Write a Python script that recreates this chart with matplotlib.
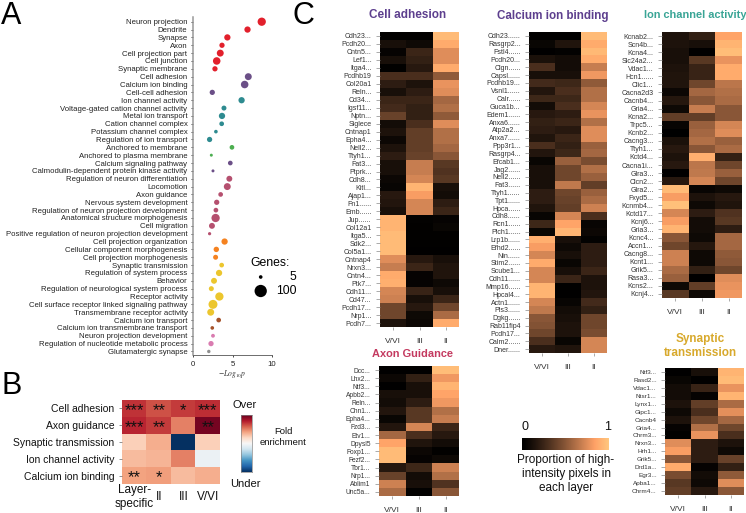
import matplotlib
matplotlib.use("Agg")
import matplotlib.pyplot as plt
from matplotlib.colors import PowerNorm
import numpy as np

plt.rcParams['font.family'] = ['Liberation Sans', 'DejaVu Sans']
plt.rcParams['mathtext.fontset'] = 'stix'

W, H = 746, 513

#Panel A data
terms = ["Neuron projection", "Dendrite", "Synapse", "Axon", "Cell projection part", "Cell junction",
         "Synaptic membrane", "Cell adhesion", "Calcium ion binding", "Cell-cell adhesion", "Ion channel activity",
         "Voltage-gated cation channel activity", "Metal ion transport", "Cation channel complex",
         "Potassium channel complex", "Regulation of ion transport", "Anchored to membrane",
         "Anchored to plasma membrane", "Calcium signaling pathway", "Calmodulin-dependent protein kinase activity",
         "Regulation of neuron differentiation", "Locomotion", "Axon guidance", "Nervous system development",
         "Regulation of neuron projection development", "Anatomical structure morphogenesis", "Cell migration",
         "Positive regulation of neuron projection development", "Cell projection organization",
         "Cellular component morphogenesis", "Cell projection morphogenesis", "Synaptic transmission",
         "Regulation of system process", "Behavior", "Regulation of neurological system process", "Receptor activity",
         "Cell surface receptor linked signaling pathway", "Transmembrane receptor activity", "Calcium ion transport",
         "Calcium ion transmembrane transport", "Neuron projection development",
         "Regulation of nucleotide metabolic process", "Glutamatergic synapse"]
logP = [8.7, 6.9, 4.35, 3.67, 3.45, 3.0, 2.78, 7.0, 6.54, 2.44, 6.15, 3.92, 3.67, 3.63, 2.9, 2.1, 4.93, 2.32, 4.72,
        2.53, 4.6, 4.34, 3.5, 3.0, 2.9, 2.86, 2.4, 2.1, 4.0, 2.95, 2.86, 3.63, 3.3, 2.66, 2.32, 3.34, 2.53, 2.24,
        3.25, 2.44, 2.53, 2.28, 2.0]
genes = [43, 23, 23, 15, 29, 35, 15, 29, 35, 15, 23, 13, 23, 11, 5, 15, 11, 2, 11, 2, 20, 29, 11, 15, 11, 43, 20, 3,
         23, 16, 13, 11, 23, 20, 13, 43, 51, 29, 11, 5, 6, 15, 4]
termGroups = ["membrane"] * 7 + ["binding"] * 3 + ["channel"] * 6 + ["anchor"] * 2 + ["binding"] * 2 \
    + ["neuro"] * 8 + ["projection"] * 3 + ["system"] * 7 + ["calcium"] * 2 + ["pink"] * 2 + ["grey"]
groupColors = {"membrane": "#e2202c", "binding": "#6b4f87", "channel": "#2e8b90", "anchor": "#4cae50",
               "neuro": "#b5506f", "projection": "#f58220", "system": "#ecc62e", "calcium": "#a5522a",
               "pink": "#d97cb0", "grey": "#8f8f8f"}

#Panel B data
enrichRows = ["Cell adhesion", "Axon guidance", "Synaptic transmission", "Ion channel activity", "Calcium ion binding"]
enrichCols = ["Layer-\nspecific", "II", "III", "V/VI"]
enrichment = [[.86, .82, .85, .87],
              [.88, .85, .75, .98],
              [.62, .68, .00, .62],
              [.66, .67, .75, .47],
              [.70, .71, .66, .68]]
stars = [["***", "**", "*", "***"],
         ["***", "**", "", "**"],
         ["", "", "", ""],
         ["", "", "", ""],
         ["**", "*", "", ""]]

#Panel C data
layers = ["V/VI", "III", "II"]
adhesionGenes = ["Cdh23...", "Pcdh20...", "Cntn5...", "Lef1...", "Itga4...", "Pcdhb19", "Col20a1", "Reln...", "Cd34...",
                 "Igsf11...", "Nptn...", "Siglece", "Cntnap1", "Epha4...", "Nell2...", "Ttyh1...", "Fat3...", "Ptprk...",
                 "Cdh8...", "Kitl...", "Ajap1...", "Fn1......", "Emb......", "Jup......", "Col12a1", "Itga5...", "Sdk2...",
                 "Col5a1...", "Cntnap4", "Nrxn3...", "Cntn4...", "Ptk7...", "Cdh11...", "Cd47...", "Pcdh17...", "Nrp1...",
                 "Pcdh7..."]
adhesionVals = [[.02, .02, .95], [.12, .08, .88], [.04, .25, .75], [.12, .22, .75], [.02, .18, .88], [.30, .30, .52],
                [.20, .14, .78], [.12, .20, .75], [.25, .25, .58], [.28, .22, .62], [.40, .22, .52], [.10, .30, .75],
                [.14, .38, .62], [.07, .38, .62], [.14, .38, .58], [.20, .40, .50], [.12, .68, .35], [.12, .68, .32],
                [.07, .72, .35], [.05, .92, .12], [.18, .82, .10], [.16, .72, .20], [.12, .72, .25], [.92, .03, .04],
                [.92, .02, .06], [.95, .02, .02], [.95, .02, .02], [.95, .01, .01], [.75, .18, .12], [.68, .25, .15],
                [.88, .04, .15], [.90, .04, .08], [.72, .24, .12], [.70, .12, .25], [.42, .18, .42], [.42, .08, .60],
                [.14, .07, .88]]
calciumGenes = ["Cdh23......", "Rasgrp2...", "Fstl4......", "Pcdh20...", "Clgn......", "Capsl......", "Pcdhb19...",
                "Vsnl1......", "Calr......", "Guca1b...", "Edem1......", "Anxa6......", "Atp2a2...", "Anxa7......",
                "Ppp3r1...", "Rasgrp4...", "Efcab1...", "Jag2......", "Nell2......", "Fat3......", "Ttyh1......",
                "Tpt1......", "Hpca......", "Cdh8......", "Rcn1......", "Plch1......", "Lrp1b......", "Efhd2......",
                "Nin......", "Stim2......", "Scube1...", "Cdh11......", "Mmp16......", "Hpcal4...", "Actn1......",
                "Pls3......", "Dgkg......", "Rab11fip4", "Pcdh17...", "Calm2......", "Dner......"]
calciumVals = [[.01, .01, .95], [.06, .15, .88], [.01, .03, .94], [.13, .10, .88], [.30, .10, .68], [.12, .12, .80],
               [.28, .26, .52], [.16, .30, .62], [.26, .26, .62], [.10, .30, .72], [.18, .20, .78], [.22, .25, .62],
               [.20, .18, .75], [.15, .25, .75], [.30, .22, .55], [.16, .26, .58], [.06, .55, .45], [.12, .42, .62],
               [.12, .42, .55], [.12, .66, .38], [.20, .42, .55], [.20, .40, .60], [.15, .38, .70], [.05, .72, .30],
               [.26, .85, .05], [.06, .93, .07], [.90, .12, .03], [.82, .08, .20], [.72, .12, .20], [.88, .06, .20],
               [.72, .12, .25], [.72, .25, .14], [.92, .02, .14], [.92, .01, .16], [.72, .05, .28], [.66, .10, .22],
               [.50, .12, .42], [.48, .14, .42], [.42, .14, .45], [.30, .06, .72], [.18, .15, .72]]
ionGenes = ["Kcnab2...", "Scn4b...", "Kcna4...", "Slc24a2...", "Vdac1...", "Hcn1......", "Clic1...", "Cacna2d3", "Cacnb4...",
            "Gria4...", "Kcna2...", "Trpc5...", "Kcnb2...", "Cacng3...", "Ttyh1...", "Kctd4...", "Cacna1i...", "Glra3...",
            "Clcn2...", "Glra2...", "Fxyd5...", "Kcnmb4...", "Kctd17...", "Kcnj6...", "Gria3...", "Kcnc4...", "Accn1...",
            "Cacng8...", "Kcnt1...", "Grik5...", "Rasa3...", "Kcns2...", "Kcnj4..."]
ionVals = [[.14, .22, .85], [.14, .12, .92], [.12, .01, .96], [.12, .35, .78], [.14, .24, .88], [.15, .24, .88],
           [.15, .42, .65], [.07, .58, .62], [.17, .50, .60], [.08, .68, .50], [.38, .38, .50], [.05, .55, .72],
           [.00, .58, .75], [.13, .62, .55], [.18, .50, .60], [.14, .90, .22], [.18, .65, .42], [.01, .66, .55],
           [.18, .72, .42], [.95, .05, .08], [.82, .14, .18], [.97, .08, .15], [.72, .20, .32], [.82, .10, .35],
           [.92, .10, .20], [.50, .08, .58], [.42, .17, .58], [.70, .08, .52], [.70, .08, .50], [.60, .22, .42],
           [.55, .01, .75], [.08, .38, .78], [.35, .08, .80]]
axonGenes = ["Dcc...", "Lhx2...", "Ntf3...", "Apbb2...", "Reln...", "Chn1...", "Epha4...", "Fzd3...", "Etv1...", "Dpysl5",
             "Foxp1...", "Fezf2...", "Tbr1...", "Nrp1...", "Ablim1", "Unc5a..."]
axonVals = [[.01, .01, .96], [.07, .22, .80], [.01, .12, .92], [.12, .12, .85], [.10, .20, .80], [.16, .35, .62],
            [.06, .35, .68], [.16, .72, .25], [.58, .30, .18], [.85, .15, .10], [.95, .07, .02], [.95, .04, .08],
            [.17, .26, .70], [.40, .10, .62], [.70, .12, .32], [.60, .03, .50]]
synapticGenes = ["Ntf3...", "Rasd2...", "Vdac1...", "Ntsr1...", "Lynx1...", "Gipc1...", "Cacnb4", "Gria4...", "Chrm3...",
                 "Nrxn3...", "Hrh1...", "Grik5...", "Drd1a...", "Egr3...", "Apba1...", "Chrm4..."]
synapticVals = [[.01, .12, .92], [.06, .01, .95], [.10, .24, .78], [.10, .04, .92], [.14, .38, .60], [.08, .30, .76],
                [.14, .42, .58], [.04, .62, .42], [.02, .78, .30], [.75, .20, .14], [.82, .20, .08], [.50, .20, .40],
                [.88, .04, .22], [.45, .10, .52], [.35, .08, .75], [.38, .18, .50]]

#copper came out a bit too bright in the middle
layerNorm = PowerNorm(gamma=1.2, vmin=0, vmax=1)


def pxAxes(fig, left, top, right, bottom):
    #axes from pixel box, y counted from the top of the image
    return fig.add_axes([left / W, 1 - bottom / H, (right - left) / W, (bottom - top) / H])


def geneSize(n):
    #marker area in points^2, picked so the legend dots come out right
    return (6 + 1.45 * np.asarray(n)) * 0.72 ** 2


def layerHeatmap(fig, box, vals, names, fontsize=5):
    ax = pxAxes(fig, *box)
    ax.imshow(np.array(vals), cmap='copper', norm=layerNorm, aspect='auto', interpolation='nearest')
    ax.set_yticks(range(len(names)))
    ax.set_yticklabels(names, fontsize=fontsize, color='#333333')
    ax.set_xticks(range(len(layers)))
    ax.set_xticklabels(layers, fontsize=6, color='#333333')
    ax.tick_params(axis='y', length=3, width=0.5, color='#888888', pad=3)
    ax.tick_params(axis='x', length=2, width=0.5, color='#888888', pad=6)
    for s in ax.spines.values():
        s.set_visible(False)
    return ax


fig = plt.figure(figsize=(W / 100, H / 100), dpi=100)

#overlay in pixel coordinates for the loose text and the size legend
over = fig.add_axes([0, 0, 1, 1], zorder=5)
over.set_xlim(0, W)
over.set_ylim(H, 0)
over.axis('off')
over.patch.set_alpha(0)

for letter, x, y in [("A", 1, 24), ("B", 1, 394), ("C", 292, 24)]:
    over.text(x, y, letter, fontsize=22, ha='left', va='baseline', color='black')

## Panel A
ax = pxAxes(fig, 193, 17, 272, 355)
rowY = np.arange(len(terms))
ax.scatter(logP, rowY, s=geneSize(genes), c=[groupColors[g] for g in termGroups], linewidths=0, clip_on=False)
ax.set_xlim(0, 10)
ax.set_ylim(len(terms) - 1 + 0.45, -0.6)
ax.set_yticks(rowY)
ax.set_yticklabels(terms, fontsize=5.6, color='#222222')
ax.set_xticks([0, 5, 10])
ax.set_xticklabels(["0", "5", "10"], fontsize=5.6, color='#222222')
ax.set_xlabel(r"$-Log_{10}p$", fontsize=5.5, labelpad=0, color='#333333')
ax.tick_params(axis='y', length=1.5, width=0.5, pad=2.5)
ax.tick_params(axis='x', length=1.5, width=0.5, pad=2.5)
ax.spines['top'].set_visible(False)
ax.spines['right'].set_visible(False)
ax.spines['left'].set_linewidth(1.1)
ax.spines['left'].set_color('#999999')
ax.spines['bottom'].set_linewidth(0.6)
ax.spines['bottom'].set_color('#555555')

over.text(250, 263, "Genes:", fontsize=8.8, ha='left', va='center')
over.scatter([260.7, 260.7], [277, 291], s=geneSize([5, 100]), c='black', linewidths=0)
over.text(296, 277, "5", fontsize=8.8, ha='right', va='center')
over.text(297, 291, "100", fontsize=8.8, ha='right', va='center')

## Panel B
ax = pxAxes(fig, 122, 400, 220, 484)
ax.imshow(np.array(enrichment), cmap='RdBu_r', vmin=0, vmax=1, aspect='auto', interpolation='nearest')
for i, row in enumerate(stars):
    for j, mark in enumerate(row):
        if mark:
            ax.text(j, i + 0.12, mark, ha='center', va='center', fontsize=12, color='#111111')
ax.set_yticks(range(len(enrichRows)))
ax.set_yticklabels(enrichRows, fontsize=7.5, color='#111111')
ax.set_xticks(range(len(enrichCols)))
ax.set_xticklabels(enrichCols, fontsize=8.5, color='#111111', linespacing=1.25, va='center')
ax.tick_params(axis='y', length=2.5, width=0.5, color='#666666', pad=3)
ax.tick_params(axis='x', length=0, pad=9.5)
for s in ax.spines.values():
    s.set_visible(False)

cax = pxAxes(fig, 241, 415, 252, 472)
cax.imshow(np.linspace(1, 0, 256)[:, None], cmap='RdBu_r', aspect='auto')
cax.set_xticks([])
cax.set_yticks([])
for s in cax.spines.values():
    s.set_linewidth(0.5)
    s.set_color('#888888')
over.text(245, 405, "Over", fontsize=8, ha='center', va='center', color='#111111')
over.text(245, 484, "Under", fontsize=8, ha='center', va='center', color='#111111')
over.text(283, 437, "Fold\nenrichment", fontsize=6.8, ha='center', va='center', color='#111111', linespacing=1.35)

## Panel C
layerHeatmap(fig, (380, 32, 459, 327), adhesionVals, adhesionGenes)
layerHeatmap(fig, (529, 32, 607, 353), calciumVals, calciumGenes)
layerHeatmap(fig, (662, 32, 742, 298), ionVals, ionGenes)
layerHeatmap(fig, (379, 366, 459, 496), axonVals, axonGenes, fontsize=4.8)
layerHeatmap(fig, (665, 368, 744, 495), synapticVals, synapticGenes, fontsize=4.6)

titleFont = dict(fontweight='bold', ha='center', va='center')
over.text(408, 15.5, "Cell adhesion", color='#5d3f8e', fontsize=8.5, **titleFont)
over.text(553, 15.5, "Calcium ion binding", color='#5d3f8e', fontsize=8.4, **titleFont)
over.text(695, 15.5, "Ion channel activity", color='#3aa596', fontsize=7.9, **titleFont)
over.text(413, 354, "Axon Guidance", color='#c43a60', fontsize=7.9, **titleFont)
over.text(700, 346, "Synaptic\ntransmission", color='#d8a92c', fontsize=8.5, linespacing=1.15, **titleFont)

cbar = pxAxes(fig, 522, 438, 609, 450)
cbar.imshow(np.linspace(0, 1, 256)[None, :], cmap='copper', norm=layerNorm, aspect='auto')
cbar.set_xticks([])
cbar.set_yticks([])
for s in cbar.spines.values():
    s.set_visible(False)
over.text(525, 427, "0", fontsize=9, ha='center', va='center', color='#111111')
over.text(608, 427, "1", fontsize=9, ha='center', va='center', color='#111111')
over.text(566, 474, "Proportion of high-\nintensity pixels in\neach layer", fontsize=8.5, ha='center', va='center',
          color='#111111', linespacing=1.25)

fig.savefig("out.png", dpi=100)
